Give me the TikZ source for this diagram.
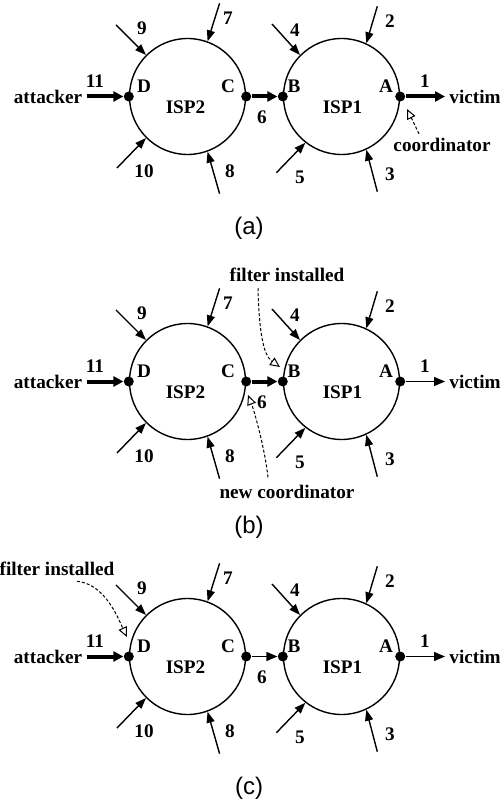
\documentclass[tikz,border=0pt]{standalone}
\usepackage{fontspec}
\setmainfont{Liberation Serif}
\setsansfont{Liberation Sans}
\usetikzlibrary{arrows.meta}

\tikzset{
  isp/.style={circle, draw, line width=0.7pt, minimum size=58pt, inner sep=0pt},
  port/.style={circle, fill, inner sep=0pt, minimum size=5pt},
  lbl/.style={font=\bfseries\fontsize{9.6}{11}\selectfont, inner sep=2pt},
  subcap/.style={font=\sffamily\fontsize{12}{14}\selectfont},
  feed/.style={line width=0.7pt, -{Triangle[length=5.5pt,width=4pt]}},
  light/.style={line width=0.7pt, -{Triangle[length=5.5pt,width=4.5pt]}},
  heavy/.style={line width=2pt, -{Triangle[length=5pt,width=5pt]}},
  pointer/.style={line width=0.5pt, dash pattern=on 1.5pt off 1pt, -{Triangle[open,length=5pt,width=4.5pt]}}
}

% one panel: #1 = style of link 6, #2 = style of link 1
\newcommand{\ispnetwork}[2]{%
  \node[isp] (isp2) at (187.5,96.5) {};
  \node[isp] (isp1) at (341.5,96.5) {};
  \node[lbl] (tisp2) at (185.5,107) {ISP2};
  \node[lbl] (tisp1) at (342.5,107) {ISP1};
  \node[port] (D) at (isp2.west) {};
  \node[port] (C) at (isp2.east) {};
  \node[port] (B) at (isp1.west) {};
  \node[port] (A) at (isp1.east) {};
  \node[lbl] (lD) at (144,86) {D};
  \node[lbl] (lC) at (228,86) {C};
  \node[lbl] (lB) at (294,86) {B};
  \node[lbl] (lA) at (386,86) {A};
  \node[lbl] (attacker) at (48,96.5) {attacker};
  \node[lbl] (victim) at (475,96.5) {victim};
  \draw[heavy] (attacker) -- (D);
  \draw[#1] (C) -- (B);
  \draw[#2] (A) -- (victim);
  % traffic from the other neighbours
  \draw[feed] (isp2.135) ++(-30,-30) -- (isp2.135);
  \draw[feed] (isp2.70) ++(12,-38) -- (isp2.70);
  \draw[feed] (isp2.225) ++(-29,30) -- (isp2.225);
  \draw[feed] (isp2.290) ++(12,42) -- (isp2.290);
  \draw[feed] (isp1.135) ++(-28,-31) -- (isp1.135);
  \draw[feed] (isp1.65) ++(11,-37) -- (isp1.65);
  \draw[feed] (isp1.232) ++(-29,30) -- (isp1.232);
  \draw[feed] (isp1.295) ++(11,42) -- (isp1.295);
  \node[lbl] (n11) at (95,81) {11};
  \node[lbl] (n9) at (142,28) {9};
  \node[lbl] (n7) at (228,18) {7};
  \node[lbl] (n10) at (144,171) {10};
  \node[lbl] (n8) at (230,171) {8};
  \node[lbl] (n6) at (262,117) {6};
  \node[lbl] (n4) at (295,30) {4};
  \node[lbl] (n2) at (390,21) {2};
  \node[lbl] (n5) at (300,177) {5};
  \node[lbl] (n3) at (390,174) {3};
  \node[lbl] (n1) at (425,81) {1};
}

\begin{document}
\begin{tikzpicture}[x=0.5pt,y=-0.5pt]
  \useasboundingbox (0,0) rectangle (503,801);

  % (a)
  \begin{scope}
    \ispnetwork{heavy}{heavy}
    \node[lbl] (coord) at (442,145) {coordinator};
    \coordinate (coordtip) at (407,109);
    \draw[pointer] ([xshift=-11.5pt]coord.north) -- (coordtip);
  \end{scope}
  \node[subcap] (capa) at (249,228) {(a)};

  % (b)
  \begin{scope}[shift={(0,285)}]
    \ispnetwork{heavy}{light}
    \node[lbl] (filt) at (287,-10) {filter installed};
    \coordinate (filttip) at (280,82);
    \draw[pointer] ([xshift=-14.5pt,yshift=-1pt]filt.south) .. controls (259,45) and (263,70) .. (filttip);
    \node[lbl] (newc) at (287,206.5) {new coordinator};
    \coordinate (newctip) at (248,110);
    \draw[pointer] ([xshift=-9.5pt,yshift=1.5pt]newc.north) .. controls (265,165) and (255,128) .. (newctip);
  \end{scope}
  \node[subcap] (capb) at (249,527) {(b)};

  % (c)
  \begin{scope}[shift={(0,560)}]
    \ispnetwork{light}{light}
    \node[lbl] (filt) at (57,9) {filter installed};
    \coordinate (filttip) at (127,77);
    \draw[pointer] ([xshift=10pt,yshift=-0.5pt]filt.south) .. controls (105,24) and (118,58) .. (filttip);
  \end{scope}
  \node[subcap] (capc) at (249,788) {(c)};
\end{tikzpicture}
\end{document}
